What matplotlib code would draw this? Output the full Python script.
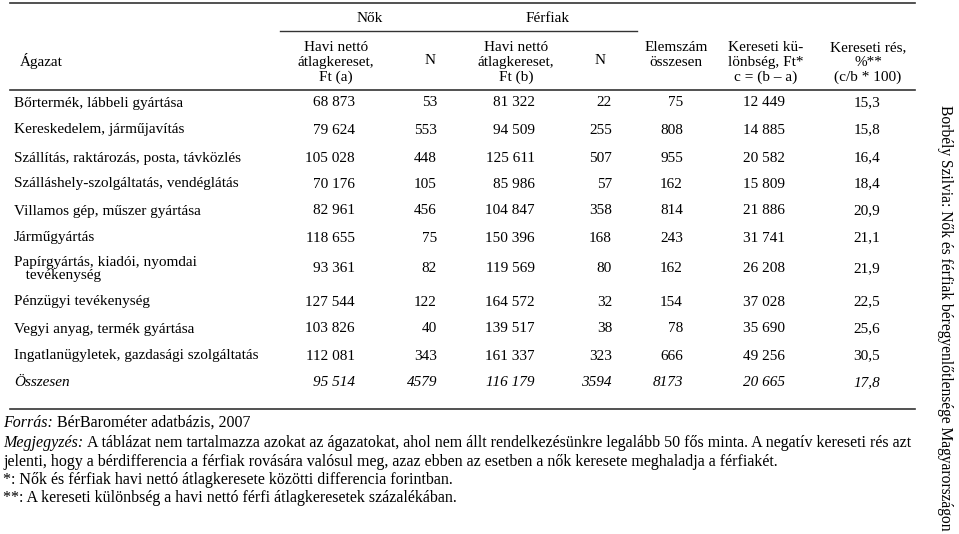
import matplotlib
matplotlib.use('Agg')
import matplotlib.pyplot as plt
from matplotlib.lines import Line2D

# táblázat adatai
agazatok = [
    'Bőrtermék, lábbeli gyártása',
    'Kereskedelem, járműjavítás',
    'Szállítás, raktározás, posta, távközlés',
    'Szálláshely-szolgáltatás, vendéglátás',
    'Villamos gép, műszer gyártása',
    'Járműgyártás',
    'Papírgyártás, kiadói, nyomdai\n   tevékenység',
    'Pénzügyi tevékenység',
    'Vegyi anyag, termék gyártása',
    'Ingatlanügyletek, gazdasági szolgáltatás',
    'Összesen',
]
nok_kereset = [68873, 79624, 105028, 70176, 82961, 118655, 93361, 127544, 103826, 112081, 95514]
nok_n = [53, 553, 448, 105, 456, 75, 82, 122, 40, 343, 4579]
ferfi_kereset = [81322, 94509, 125611, 85986, 104847, 150396, 119569, 164572, 139517, 161337, 116179]
ferfi_n = [22, 255, 507, 57, 358, 168, 80, 32, 38, 323, 3594]
elemszam = [75, 808, 955, 162, 814, 243, 162, 154, 78, 666, 8173]
kulonbseg = [12449, 14885, 20582, 15809, 21886, 31741, 26208, 37028, 35690, 49256, 20665]
res = [15.3, 15.8, 16.4, 18.4, 20.9, 21.1, 21.9, 22.5, 25.6, 30.5, 17.8]

sor_y = [103, 130, 158, 184, 211, 238, 269, 302, 329, 356, 383]

fejlec = ['Havi nettó\nátlagkereset,\nFt (a)', 'N', 'Havi nettó\nátlagkereset,\nFt (b)', 'N',
          'Elemszám\nösszesen', 'Kereseti kü-\nlönbség, Ft*\nc = (b – a)', 'Kereseti rés,\n%**\n(c/b * 100)']
fejlec_x = [336, 430, 516, 600, 676, 766, 868]
oszlop_jobb = [355, 437, 535, 612, 683, 785, 880]

forras = 'BérBarométer adatbázis, 2007'
megjegyzes = ('A táblázat nem tartalmazza azokat az ágazatokat, ahol nem állt rendelkezésünkre legalább 50 fős minta. '
              'A negatív kereseti rés azt')
megj2 = 'jelenti, hogy a bérdifferencia a férfiak rovására valósul meg, azaz ebben az esetben a nők keresete meghaladja a férfiakét.'
csillag1 = '*: Nők és férfiak havi nettó átlagkeresete közötti differencia forintban.'
csillag2 = '**: A kereseti különbség a havi nettó férfi átlagkeresetek százalékában.'

W, H = 959, 534
fig = plt.figure(figsize=(W / 100, H / 100), dpi=100)
plt.rcParams['font.family'] = ['Liberation Serif', 'DejaVu Serif']
FS = 11


def px(x, y):
    return x / W, 1 - y / H


def txt(x, y, s, **kw):
    kw.setdefault('fontsize', FS)
    kw.setdefault('va', 'center')
    return fig.text(*px(x, y), s, **kw)


def vonal(x0, x1, y, lw=1.2):
    fig.add_artist(Line2D([x0 / W, x1 / W], [1 - y / H, 1 - y / H], color='#333333', lw=lw))


def ezres(v):
    return f'{v:,}'.replace(',', ' ')


vonal(10, 915, 3)
vonal(280, 637, 31, lw=1.0)
vonal(10, 915, 90)
vonal(10, 915, 409)

txt(370, 18, 'Nők', ha='center')
txt(548, 18, 'Férfiak', ha='center')
txt(20, 61, 'Ágazat', ha='left')
for x, s in zip(fejlec_x, fejlec):
    if s == 'N':
        txt(x, 61, s, ha='center')
    else:
        txt(x, 41, s, ha='center', va='top', linespacing=1.17)

for i, y in enumerate(sor_y):
    stil = 'italic' if i == len(sor_y) - 1 else 'normal'
    txt(14, y, agazatok[i], ha='left', style=stil, linespacing=1.08)
    ertekek = [ezres(nok_kereset[i]), str(nok_n[i]), ezres(ferfi_kereset[i]), str(ferfi_n[i]),
               str(elemszam[i]), ezres(kulonbseg[i]), f'{res[i]:.1f}'.replace('.', ',')]
    for x, s in zip(oszlop_jobb, ertekek):
        txt(x, y, s, ha='right', style=stil)

# lábjegyzetek
LF = 11.5
renderer = fig.canvas.get_renderer()


def ket_resz(y, dolt, normal):
    t = txt(3, y, dolt, fontsize=LF, style='italic')
    bb = t.get_window_extent(renderer)
    txt(bb.x1 + 4, y, normal, fontsize=LF)


ket_resz(423, 'Forrás:', forras)
ket_resz(443, 'Megjegyzés:', megjegyzes)
txt(3, 462, megj2, fontsize=LF)
txt(3, 480, csillag1, fontsize=LF)
txt(3, 498, csillag2, fontsize=LF)

txt(945, 318, 'Borbély Szilvia: Nők és férfiak béregyenlőtlensége Magyarországon',
    rotation=270, fontsize=11.2, ha='center')

fig.savefig('out.png', dpi=100)
